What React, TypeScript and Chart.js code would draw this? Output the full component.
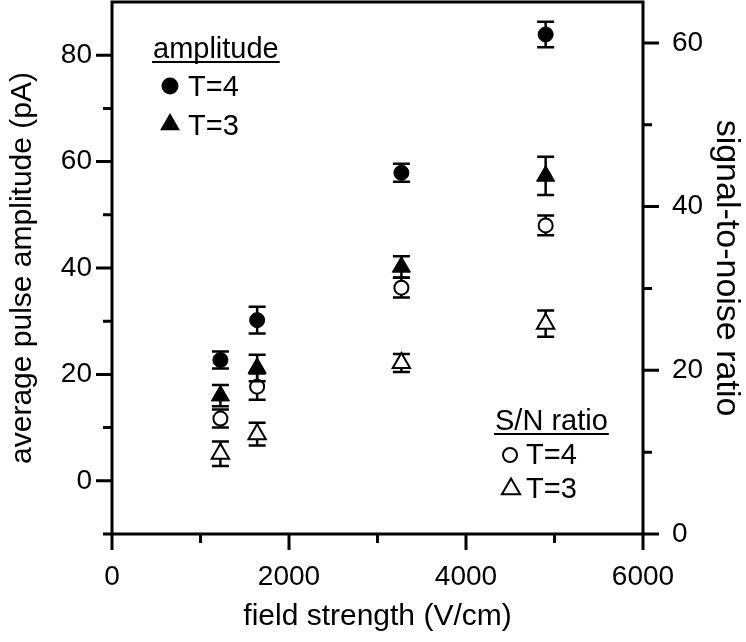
import React, { useEffect, useRef } from "react";
import { Chart, registerables } from "chart.js";

Chart.register(...registerables);

// ---------- data ----------
const fieldStrength = [1225, 1640, 3270, 4900];

const ampT4 = [22.7, 30.2, 57.9, 83.9];
const ampT4Err = [1.6, 2.5, 1.7, 2.4];
const ampT3 = [16.0, 21.2, 40.2, 57.3];
const ampT3Err = [2.0, 2.5, 2.0, 3.6];

const snT4 = [14.1, 18.0, 30.1, 37.7];
const snT4Err = [1.1, 1.6, 1.2, 1.2];
const snT3 = [9.8, 12.2, 20.9, 25.7];
const snT3Err = [1.5, 1.4, 1.1, 1.6];

const xTickLabels = [0, 2000, 4000, 6000];
const leftTickLabels = [0, 20, 40, 60, 80];
const rightTickLabels = [0, 20, 40, 60];

const xTitle = "field strength (V/cm)";
const leftTitle = "average pulse amplitude (pA)";
const rightTitle = "signal-to-noise ratio";

const legendAmpTitle = "amplitude";
const legendSnTitle = "S/N ratio";
const legendT4 = "T=4";
const legendT3 = "T=3";

const FONT = '"Liberation Sans", Arial, Helvetica, sans-serif';

function drawMarker(ctx: CanvasRenderingContext2D, style: string, filled: boolean, x: number, y: number, r: number) {
  ctx.beginPath();
  if (style === "circle") {
    ctx.arc(x, y, r, 0, Math.PI * 2);
  } else {
    ctx.moveTo(x, y - r);
    ctx.lineTo(x + r * 0.8660254, y + r / 2);
    ctx.lineTo(x - r * 0.8660254, y + r / 2);
    ctx.closePath();
  }
  if (filled) {
    ctx.fillStyle = "#000";
    ctx.fill();
  } else {
    ctx.fillStyle = "#fff";
    ctx.fill();
    ctx.lineWidth = 2;
    ctx.strokeStyle = "#000";
    ctx.stroke();
  }
}

const errorBarPlugin = {
  id: "errorBars",
  beforeDatasetDraw(chart: any, args: any) {
    const ds = chart.data.datasets[args.index];
    const errs: number[] = ds.errorBars;
    if (!errs) return;
    const ctx = chart.ctx;
    const xs = chart.scales.x;
    const ys = chart.scales[ds.yAxisID];
    ctx.save();
    ctx.strokeStyle = "#000";
    ctx.lineWidth = 2.5;
    ctx.lineCap = "butt";
    ds.data.forEach((p: any, i: number) => {
      const px = xs.getPixelForValue(p.x);
      const yTop = ys.getPixelForValue(p.y + errs[i]);
      const yBot = ys.getPixelForValue(p.y - errs[i]);
      const cap = 8.5;
      ctx.beginPath();
      ctx.moveTo(px, yTop);
      ctx.lineTo(px, yBot);
      ctx.moveTo(px - cap, yTop);
      ctx.lineTo(px + cap, yTop);
      ctx.moveTo(px - cap, yBot);
      ctx.lineTo(px + cap, yBot);
      ctx.stroke();
    });
    ctx.restore();
  },
};

const framePlugin = {
  id: "frameTicks",
  afterDraw(chart: any) {
    const { ctx, chartArea: a, scales } = chart;
    ctx.save();
    ctx.strokeStyle = "#000";
    ctx.lineWidth = 3;
    ctx.lineCap = "butt";
    const MAJ = 16;
    const MIN = 9;
    ctx.beginPath();
    scales.x.ticks.forEach((t: any) => {
      const px = scales.x.getPixelForValue(t.value);
      const len = t.value % 2000 === 0 ? MAJ : MIN;
      ctx.moveTo(px, a.bottom);
      ctx.lineTo(px, a.bottom + len);
    });
    scales.y.ticks.forEach((t: any) => {
      if (t.value >= scales.y.max) return;
      const py = scales.y.getPixelForValue(t.value);
      const len = t.value % 20 === 0 ? MAJ : MIN;
      ctx.moveTo(a.left, py);
      ctx.lineTo(a.left - len, py);
    });
    scales.y1.ticks.forEach((t: any) => {
      if (t.value % 10 !== 0) return;
      const py = scales.y1.getPixelForValue(t.value);
      const len = t.value % 20 === 0 ? MAJ : MIN;
      ctx.moveTo(a.right, py);
      ctx.lineTo(a.right + len, py);
    });
    ctx.stroke();
    ctx.strokeRect(a.left, a.top, a.right - a.left, a.bottom - a.top);
    ctx.restore();
  },
};

const legendPlugin = {
  id: "customLegend",
  afterDraw(chart: any) {
    const ctx: CanvasRenderingContext2D = chart.ctx;
    ctx.save();
    ctx.font = `29px ${FONT}`;
    ctx.textAlign = "left";
    ctx.textBaseline = "alphabetic";
    ctx.fillStyle = "#000";
    ctx.strokeStyle = "#000";

    // amplitude group
    ctx.fillText(legendAmpTitle, 153, 57.5);
    let w = ctx.measureText(legendAmpTitle).width;
    ctx.lineWidth = 2;
    ctx.beginPath();
    ctx.moveTo(152, 62);
    ctx.lineTo(154 + w, 62);
    ctx.stroke();
    drawMarker(ctx, "circle", true, 170, 86, 8.5);
    ctx.fillStyle = "#000";
    ctx.fillText(legendT4, 188, 96);
    drawMarker(ctx, "triangle", true, 170, 124.5, 11.5);
    ctx.fillStyle = "#000";
    ctx.fillText(legendT3, 188, 135);

    // S/N group
    ctx.fillText(legendSnTitle, 495, 430);
    w = ctx.measureText(legendSnTitle).width;
    ctx.lineWidth = 2;
    ctx.beginPath();
    ctx.moveTo(494, 434);
    ctx.lineTo(496 + w, 434);
    ctx.stroke();
    drawMarker(ctx, "circle", false, 510, 455, 7);
    ctx.fillStyle = "#000";
    ctx.fillText(legendT4, 526, 464);
    drawMarker(ctx, "triangle", false, 511, 489, 10.5);
    ctx.fillStyle = "#000";
    ctx.fillText(legendT3, 526, 498);
    ctx.restore();
  },
};

const toPoints = (ys: number[]) => fieldStrength.map((x, i) => ({ x, y: ys[i] }));

const zeroPad = (s: any) => {
  s.paddingTop = 0;
  s.paddingBottom = 0;
  s.paddingLeft = 0;
  s.paddingRight = 0;
};

export default function App() {
  const ref = useRef<HTMLCanvasElement>(null);

  useEffect(() => {
    if (!ref.current) return;
    const tickFont = { family: FONT, size: 28 };
    const titleFont = { family: FONT, size: 30 };
    const chart = new Chart(ref.current, {
      type: "scatter",
      data: {
        datasets: [
          {
            label: "amplitude T=4",
            data: toPoints(ampT4),
            yAxisID: "y",
            pointStyle: "circle",
            pointRadius: 7.5,
            borderWidth: 1,
            backgroundColor: "#000",
            borderColor: "#000",
            errorBars: ampT4Err,
          } as any,
          {
            label: "amplitude T=3",
            data: toPoints(ampT3),
            yAxisID: "y",
            pointStyle: "triangle",
            pointRadius: 10.5,
            borderWidth: 1,
            backgroundColor: "#000",
            borderColor: "#000",
            errorBars: ampT3Err,
          } as any,
          {
            label: "S/N T=4",
            data: toPoints(snT4),
            yAxisID: "y1",
            pointStyle: "circle",
            pointRadius: 7,
            borderWidth: 2,
            backgroundColor: "#fff",
            borderColor: "#000",
            errorBars: snT4Err,
          } as any,
          {
            label: "S/N T=3",
            data: toPoints(snT3),
            yAxisID: "y1",
            pointStyle: "triangle",
            pointRadius: 10,
            borderWidth: 2,
            backgroundColor: "#fff",
            borderColor: "#000",
            errorBars: snT3Err,
          } as any,
        ],
      },
      options: {
        responsive: false,
        maintainAspectRatio: false,
        devicePixelRatio: 1,
        animation: false,
        events: [],
        layout: { autoPadding: false, padding: { top: 2, left: 0, right: 0, bottom: 0 } },
        plugins: {
          legend: { display: false },
          tooltip: { enabled: false },
        },
        scales: {
          x: {
            type: "linear",
            position: "bottom",
            min: 0,
            max: 6000,
            afterFit: (s: any) => {
              s.height = 108;
              zeroPad(s);
            },
            grid: { display: true, drawOnChartArea: false, drawTicks: false },
            border: { display: false },
            ticks: {
              stepSize: 1000,
              autoSkip: false,
              maxRotation: 0,
              padding: 26,
              color: "#000",
              font: tickFont,
              callback: (v: any) => (xTickLabels.includes(Number(v)) ? String(v) : ""),
            },
            title: {
              display: true,
              text: xTitle,
              color: "#000",
              font: titleFont,
              padding: { top: 0, bottom: 7 },
            },
          },
          y: {
            type: "linear",
            position: "left",
            min: -10,
            max: 90,
            afterFit: (s: any) => {
              s.width = 112;
              zeroPad(s);
            },
            grid: { display: true, drawOnChartArea: false, drawTicks: false },
            border: { display: false },
            ticks: {
              stepSize: 10,
              autoSkip: false,
              padding: 20,
              color: "#000",
              font: tickFont,
              callback: (v: any) => (leftTickLabels.includes(Number(v)) ? String(v) : ""),
            },
            title: {
              display: true,
              text: leftTitle,
              color: "#000",
              font: titleFont,
              padding: { top: 5, bottom: 0 },
            },
          },
          y1: {
            type: "linear",
            position: "right",
            min: 0,
            max: 65,
            afterFit: (s: any) => {
              s.width = 103;
              zeroPad(s);
            },
            grid: { display: true, drawOnChartArea: false, drawTicks: false },
            border: { display: false },
            ticks: {
              stepSize: 10,
              autoSkip: false,
              padding: 29,
              color: "#000",
              font: tickFont,
              callback: (v: any) => (rightTickLabels.includes(Number(v)) ? String(v) : ""),
            },
            title: {
              display: true,
              text: rightTitle,
              color: "#000",
              font: { family: FONT, size: 34, lineHeight: 1 },
              padding: { top: 3, bottom: 0 },
            },
          },
        },
      },
      plugins: [errorBarPlugin, framePlugin, legendPlugin],
    });
    return () => chart.destroy();
  }, []);

  return (
    <div style={{ position: "fixed", left: 0, top: 0, width: 746, height: 642, background: "#fff" }}>
      <canvas ref={ref} width={746} height={642} style={{ width: 746, height: 642, display: "block" }} />
    </div>
  );
}
